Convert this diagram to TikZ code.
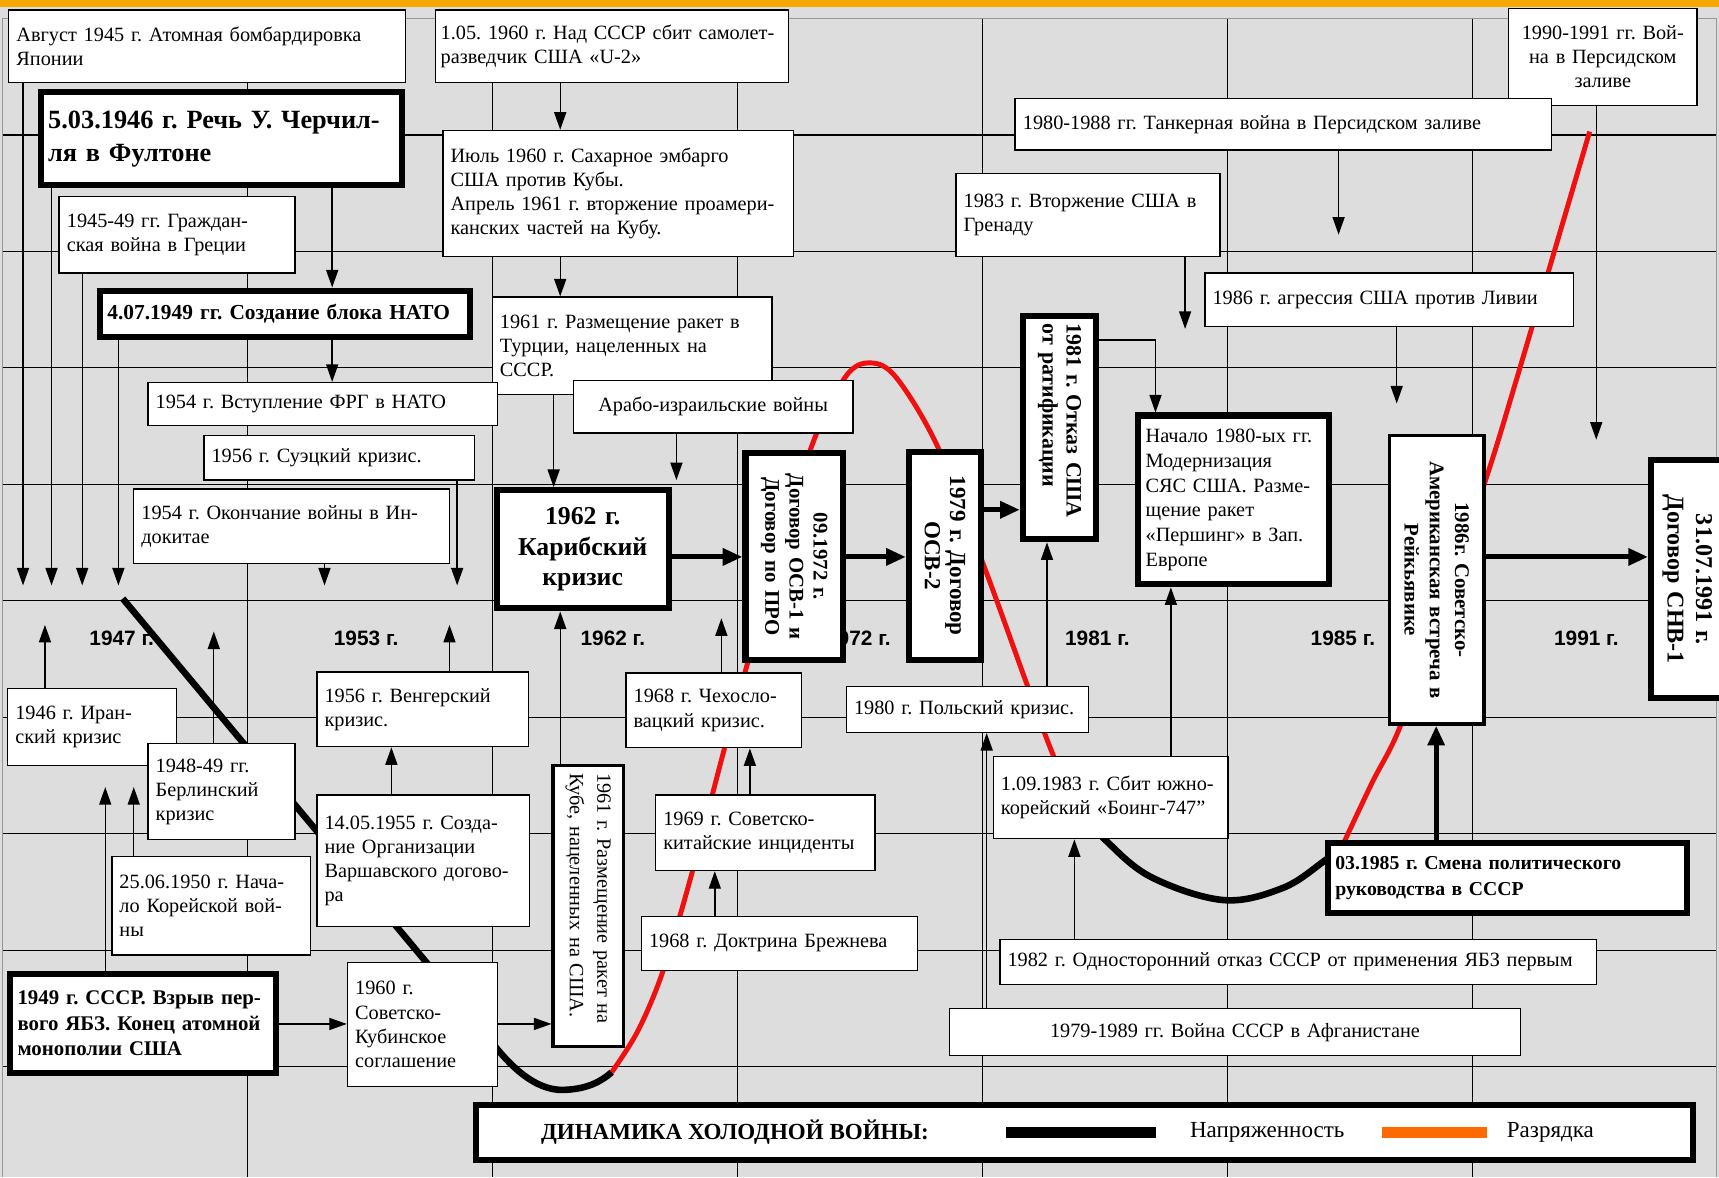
\documentclass[tikz,border=0pt]{standalone}
\usepackage{fontspec}
\setmainfont{Liberation Serif}
\setsansfont{Liberation Sans}
\usetikzlibrary{arrows.meta}
\frenchspacing
\definecolor{bggray}{RGB}{221,221,221}
\definecolor{topbar}{RGB}{245,168,0}
\definecolor{relaxred}{RGB}{240,16,16}
\definecolor{legorange}{RGB}{255,106,0}
\definecolor{framegray}{RGB}{150,150,150}

\begin{document}
\begin{tikzpicture}
	[
	x=1pt, y=-1pt,
	ev/.style = {draw, fill=white, line width=1.3pt, inner xsep=7pt, inner ysep=3pt, align=left, font=\fontsize{18.5}{22}\selectfont},
	keyev/.style = {ev, line width=5.5pt, font=\bfseries\fontsize{19}{22}\selectfont},
	midev/.style = {ev, line width=3pt},
	turned/.style = {rotate=-90, align=center},
	year/.style = {font=\sffamily\bfseries\fontsize{19}{22}\selectfont},
	arr/.style = {-{Triangle[length=16pt,width=11pt]}, line width=1.3pt},
	bigarr/.style = {-{Triangle[length=18pt,width=15pt]}, line width=4.5pt},
	tense/.style = {line width=6pt},
	relax/.style = {draw=relaxred, line width=4.5pt},
	gridln/.style = {line width=1.2pt}
	]
	
	\useasboundingbox (0,0) rectangle (1568,1074);
	\fill[bggray] (0,0) rectangle (1568,1074);
	\fill[topbar] (0,0) rectangle (1568,6);
	
	% grid
	\foreach \i in {1,...,6}
		\draw[gridln] (2+223.5*\i,16.75) -- (2+223.5*\i,1074);
	\foreach \j in {1,...,9}
		\draw[gridln] (2,16.75+106.25*\j) -- (1566,16.75+106.25*\j);
	\draw[gridln, framegray] (2,1074) -- (2,16.75) -- (1566,16.75) -- (1566,1074);
	
	\foreach \yr/\xc in {1947/111, 1953/334, 1962/559, 1972/783, 1981/1001, 1985/1225, 1991/1447}
		\node[year] (y\yr) at (\xc,582) {\yr{} г.};
	
	% tension and relaxation
	\draw[tense] (112,546) -- (440,939) .. controls (470,982) and (495,996) .. (517,994) .. controls (535,993) and (548,987) .. (558,978);
	\draw[relax] plot[smooth, tension=0.55] coordinates {(558,978) (582,940) (605,885) (631,797) (661,682) (700,540) (740,408) (771,344) (794,331) (818,345) (856,409) (900,523) (937,625) (962,692) (990,750)};
	\draw[tense] plot[smooth, tension=0.6] coordinates {(985,740) (1008,766) (1050,800) (1116,821) (1170,810) (1207,786) (1220,775)};
	\draw[relax] plot[smooth, tension=0.5] coordinates {(1222,778) (1227,766) (1252,713) (1277,663) (1316,550) (1356,435) (1383,347) (1450,120)};
	
	% upper row
	\node[ev, minimum width=362pt, minimum height=66pt, text width=348pt] (aug45) at (189,42) {Август 1945 г. Атомная бомбардировка\\Японии};
	\node[ev, inner xsep=5pt, minimum width=322pt, minimum height=66pt, text width=312pt] (plane) at (558,42) {1.05. 1960 г. Над СССР сбит самолет-\\разведчик США «U-2»};
	\node[ev, minimum width=172pt, minimum height=88pt, text width=158pt, align=center] (gulf) at (1462,52) {1990-1991 гг. Вой-\\на в Персидском\\заливе};
	\node[keyev, minimum width=330pt, minimum height=85pt, text width=316pt, font=\bfseries\fontsize{24}{30}\selectfont] (fulton) at (202,126.5) {5.03.1946 г. Речь У. Черчил-\\ля в Фултоне};
	\node[ev, minimum width=320pt, minimum height=115pt, text width=306pt] (embargo) at (564,176.5) {Июль 1960 г. Сахарное эмбарго\\США против Кубы.\\Апрель 1961 г. вторжение проамери-\\канских частей на Кубу.};
	\node[ev, minimum width=489pt, minimum height=47pt, text width=475pt] (tanker) at (1170.5,113.5) {1980-1988 гг. Танкерная война в Персидском заливе};
	\node[ev, minimum width=241pt, minimum height=76pt, text width=227pt] (grenada) at (992.5,196) {1983 г. Вторжение США в\\Гренаду};
	\node[ev, minimum width=215pt, minimum height=70pt, text width=201pt] (greece) at (161.5,214) {1945-49 гг. Граждан-\\ская война в Греции};
	\node[keyev, minimum width=338pt, minimum height=42pt, text width=324pt, font=\bfseries\fontsize{19.5}{22}\selectfont] (nato) at (260,286) {4.07.1949 гг. Создание блока НАТО};
	\node[ev, minimum width=255pt, minimum height=89pt, text width=241pt] (turkey) at (576.5,315.5) {1961 г. Размещение ракет в\\Турции, нацеленных на\\СССР.};
	\node[ev, minimum width=336pt, minimum height=49pt, text width=322pt] (libya) at (1267,273.5) {1986 г. агрессия США против Ливии};
	\node[ev, minimum width=319pt, minimum height=39pt, text width=305pt] (frg) at (294.5,368.5) {1954 г. Вступление ФРГ в НАТО};
	\node[ev, minimum width=255pt, minimum height=48pt, text width=241pt, align=center] (arab) at (650.5,371) {Арабо-израильские войны};
	\node[ev, minimum width=247pt, minimum height=41pt, text width=233pt] (suez) at (309.5,417.5) {1956 г. Суэцкий кризис.};
	\node[ev, minimum width=288pt, minimum height=68pt, text width=274pt] (indochina) at (266,480) {1954 г. Окончание войны в Ин-\\докитае};
	
	% treaties
	\node[keyev, minimum width=157pt, minimum height=108pt, text width=143pt, align=center, font=\bfseries\fontsize{23.5}{28}\selectfont] (caribbean) at (531.5,501) {1962 г.\\Карибский\\кризис};
	\node[keyev, turned, minimum width=189pt, minimum height=89pt, text width=175pt] (salt1) at (724.5,507.5) {09.1972 г.\\Договор ОСВ-1 и\\Договор по ПРО};
	\node[keyev, turned, minimum width=190pt, minimum height=66pt, text width=176pt, font=\bfseries\fontsize{21}{23}\selectfont] (salt2) at (862,507) {1979 г. Договор\\ОСВ-2};
	\node[keyev, turned, align=left, minimum width=204pt, minimum height=67pt, text width=190pt, font=\bfseries\fontsize{20}{22}\selectfont] (ratif) at (966.5,390) {1981 г. Отказ США\\от ратификации};
	\node[keyev, minimum width=174pt, minimum height=154pt, text width=160pt, font=\fontsize{18.5}{22.7}\selectfont] (pershing) at (1125,456) {Начало 1980-ых гг.\\Модернизация\\СЯС США. Разме-\\щение ракет\\«Першинг» в Зап.\\Европе};
	\node[midev, turned, minimum width=263pt, minimum height=86pt, text width=249pt, font=\bfseries\fontsize{19}{23}\selectfont] (reyk) at (1310.5,529) {1986г. Советско-\\Американская встреча в\\Рейкьявике};
	\node[keyev, turned, minimum width=217pt, minimum height=66pt, text width=203pt, font=\bfseries\fontsize{22}{26}\selectfont] (start1) at (1539,528.5) {31.07.1991 г.\\Договор СНВ-1};
	
	% lower row
	\node[ev, minimum width=154pt, minimum height=70pt, text width=140pt] (iran) at (84,663) {1946 г. Иран-\\ский кризис};
	\node[ev, minimum width=193pt, minimum height=68pt, text width=179pt] (hungary) at (385.5,647) {1956 г. Венгерский\\кризис.};
	\node[ev, minimum width=160pt, minimum height=68pt, text width=146pt] (czech) at (651,648) {1968 г. Чехосло-\\вацкий кризис.};
	\node[ev, minimum width=221pt, minimum height=42pt, text width=207pt] (poland) at (882.5,647) {1980 г. Польский кризис.};
	\node[ev, minimum width=134pt, minimum height=88pt, text width=120pt] (berlin) at (202,722) {1948-49 гг.\\Берлинский\\кризис};
	\node[ev, minimum width=194pt, minimum height=120pt, text width=180pt] (warsaw) at (386,785) {14.05.1955 г. Созда-\\ние Организации\\Варшавского догово-\\ра};
	\node[midev, turned, align=left, minimum width=256pt, minimum height=64pt, text width=242pt, font=\fontsize{18.5}{25}\selectfont] (cubamis) at (536.5,826.5) {1961 г. Размещение ракет на\\Кубе, нацеленных на США.};
	\node[ev, minimum width=200pt, minimum height=69pt, text width=186pt] (china) at (698,759.5) {1969 г. Советско-\\китайские инциденты};
	\node[ev, minimum width=214pt, minimum height=75pt, text width=200pt] (boeing) at (1013,727.5) {1.09.1983 г. Сбит южно-\\корейский «Боинг-747”};
	\node[ev, minimum width=181pt, minimum height=90pt, text width=167pt] (korea) at (192.5,826) {25.06.1950 г. Нача-\\ло Корейской вой-\\ны};
	\node[ev, minimum width=252pt, minimum height=49pt, text width=238pt] (brezhnev) at (711,860.5) {1968 г. Доктрина Брежнева};
	\node[keyev, minimum width=328pt, minimum height=64pt, text width=314pt, font=\bfseries\fontsize{18}{23}\selectfont] (gorby) at (1375,801) {03.1985 г. Смена политического\\руководства в СССР};
	\node[ev, minimum width=544pt, minimum height=41pt, text width=530pt] (nofirst) at (1184,877.5) {1982 г. Односторонний отказ СССР от применения ЯБЗ первым};
	\node[keyev, minimum width=243pt, minimum height=91pt, text width=229pt, font=\bfseries\fontsize{19}{23}\selectfont] (bomb49) at (130.5,933.5) {1949 г. СССР. Взрыв пер-\\вого ЯБЗ. Конец атомной\\монополии США};
	\node[ev, minimum width=137pt, minimum height=113pt, text width=123pt] (cuba60) at (385.5,934.5) {1960 г.\\Советско-\\Кубинское\\соглашение};
	\node[ev, minimum width=521pt, minimum height=43pt, text width=507pt, align=center] (afghan) at (1126.5,941.5) {1979-1989 гг. Война СССР в Афганистане};
	
	% legend
	\node[keyev, minimum width=1110pt, minimum height=50pt] (legend) at (989,1033) {};
	\node[anchor=west, font=\bfseries\fontsize{21}{24}\selectfont] (legtitle) at (490,1033) {ДИНАМИКА ХОЛОДНОЙ ВОЙНЫ:};
	\fill (918,1028) rectangle (1054,1038);
	\node[anchor=west, font=\fontsize{21}{24}\selectfont] (legtense) at (1082,1033) {Напряженность};
	\fill[legorange] (1261,1028) rectangle (1356,1038);
	\node[anchor=west, font=\fontsize{21}{24}\selectfont] (legrelax) at (1371,1033) {Разрядка};
	
	% free ends of the arrows
	\coordinate (t1) at (21,534);
	\coordinate (t2) at (47,534);
	\coordinate (t3) at (75,534);
	\coordinate (t4) at (108,534);
	\coordinate (t5) at (296,534);
	\coordinate (t6) at (417,534);
	\coordinate (t7) at (617,438);
	\coordinate (t8) at (1081,300);
	\coordinate (t9) at (1221,214);
	\coordinate (t10) at (1274,368);
	\coordinate (t11) at (1456,401);
	\coordinate (u1) at (41,570);
	\coordinate (u2) at (195,576);
	\coordinate (u3) at (410,570);
	\coordinate (u4) at (658,564);
	\coordinate (u5) at (96,718);
	\coordinate (u6) at (122,718);
	
	\draw[arr] (aug45.south -| t1) -- (t1);
	\draw[arr] (fulton.south -| t2) -- (t2);
	\draw[arr] (greece.south -| t3) -- (t3);
	\draw[arr] (nato.south -| t4) -- (t4);
	\draw[arr] (indochina.south -| t5) -- (t5);
	\draw[arr] (suez.south -| t6) -- (t6);
	\draw[arr] (arab.south -| t7) -- (t7);
	\draw[arr] (grenada.south -| t8) -- (t8);
	\draw[arr] (tanker.south -| t9) -- (t9);
	\draw[arr] (libya.south -| t10) -- (t10);
	\draw[arr] (gulf.south -| t11) -- (t11);
	\draw[arr] (iran.north -| u1) -- (u1);
	\draw[arr] (berlin.north -| u2) -- (u2);
	\draw[arr] (hungary.north -| u3) -- (u3);
	\draw[arr] (czech.north -| u4) -- (u4);
	\draw[arr] (bomb49.north -| u5) -- (u5);
	\draw[arr] (korea.north -| u6) -- (u6);
	
	\draw[arr] (fulton.south -| 303,0) -- (nato.north -| 303,0);
	\draw[arr] (nato.south -| 303,0) -- (frg.north -| 303,0);
	\draw[arr] (plane.south -| 511,0) -- (embargo.north -| 511,0);
	\draw[arr] (embargo.south -| 511,0) -- (turkey.north -| 511,0);
	\draw[arr] (turkey.south -| 505,0) -- (caribbean.north -| 505,0);
	\draw[arr] (cubamis.west -| 511,0) -- (caribbean.south -| 511,0);
	\draw[arr] (warsaw.north -| 357,0) -- (hungary.south -| 357,0);
	\draw[arr] (china.north -| 684,0) -- (czech.south -| 684,0);
	\draw[arr] (brezhnev.north -| 652,0) -- (china.south -| 652,0);
	\draw[arr] (bomb49.east |- 0,934) -- (cuba60.west |- 0,934);
	\draw[arr] (cuba60.east |- 0,934) -- (cubamis.south |- 0,934);
	\draw[arr] (poland.north -| 955,0) -- (ratif.east -| 955,0);
	\draw[arr] (ratif.north |- 0,310) -| (pershing.north -| 1054,0);
	\draw[arr] (boeing.north -| 1068,0) -- (pershing.south -| 1068,0);
	\draw[arr] (afghan.north -| 900,0) -- (poland.south -| 900,0);
	\draw[arr] (nofirst.north -| 980,0) -- (boeing.south -| 980,0);
	
	\draw[bigarr] (caribbean.east |- 0,508) -- (salt1.south |- 0,508);
	\draw[bigarr] (salt1.north |- 0,508) -- (salt2.south |- 0,508);
	\draw[bigarr] (salt2.north |- 0,465) -- (ratif.south |- 0,465);
	\draw[bigarr] (reyk.north |- 0,508) -- (start1.south |- 0,508);
	\draw[bigarr] (gorby.north -| 1310,0) -- (reyk.east -| 1310,0);
	
\end{tikzpicture}
\end{document}
